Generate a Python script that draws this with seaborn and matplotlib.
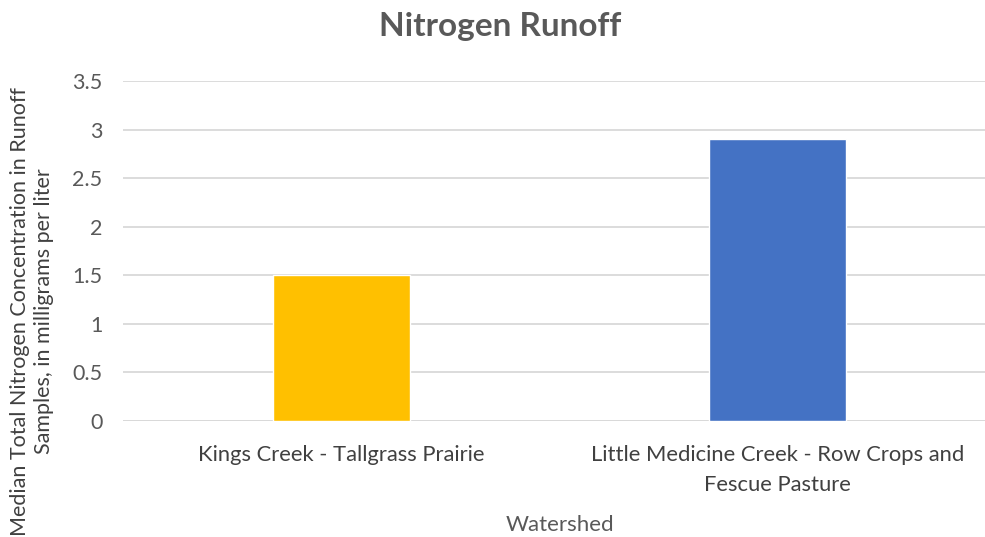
import matplotlib
matplotlib.use("Agg")
import matplotlib.pyplot as plt
import seaborn as sns
import pandas as pd

watersheds = ["Kings Creek - Tallgrass Prairie",
              "Little Medicine Creek - Row Crops and\nFescue Pasture"]
nitrogen_mg_per_l = [1.5, 2.9]
bar_colors = ["#FFC000", "#4472C4"]
y_ticks = [0, 0.5, 1, 1.5, 2, 2.5, 3, 3.5]
y_tick_labels = ["0", "0.5", "1", "1.5", "2", "2.5", "3", "3.5"]

sns.set_theme(style="white")
plt.rcParams["font.family"] = ["Lato", "DejaVu Sans"]

text_gray = "#595959"
dark_gray = "#404040"
df = pd.DataFrame({"Watershed": watersheds, "Nitrogen": nitrogen_mg_per_l})

fig = plt.figure(figsize=(9.85, 5.37), dpi=100)
ax = fig.add_axes([0.125, 0.216, 0.886, 0.633])

sns.barplot(data=df, x="Watershed", y="Nitrogen", hue="Watershed",
            palette=bar_colors, width=0.314, legend=False, ax=ax,
            saturation=1, zorder=3)

ax.set_ylim(0, 3.5)
ax.set_yticks(y_ticks)
ax.set_yticklabels(y_tick_labels)
ax.yaxis.grid(True, color="#D9D9D9", linewidth=1.3, zorder=0)
ax.set_axisbelow(True)
for side in ["top", "right", "left", "bottom"]:
    ax.spines[side].set_visible(False)
ax.axhline(0, color="#D9D9D9", linewidth=1.3, zorder=1)

ax.tick_params(axis="y", labelsize=15.5, colors=text_gray, length=0, pad=15)
ax.tick_params(axis="x", labelsize=15.8, colors=dark_gray, length=0, pad=17)
for lbl in ax.get_xticklabels():
    lbl.set_linespacing(1.67)

ax.set_xlabel("Watershed", fontsize=16, color=text_gray, labelpad=14.5)
ax.set_ylabel("")

fig.text(0.032, 0.42,
         "Median Total Nitrogen Concentration in Runoff\nSamples, in milligrams per liter",
         rotation=90, ha="center", va="center", fontsize=15.5, color=dark_gray,
         linespacing=1.25)

fig.suptitle("Nitrogen Runoff", x=0.508, y=0.978, fontsize=24,
             fontweight="bold", color=text_gray)

fig.savefig("out.png", dpi=100)
